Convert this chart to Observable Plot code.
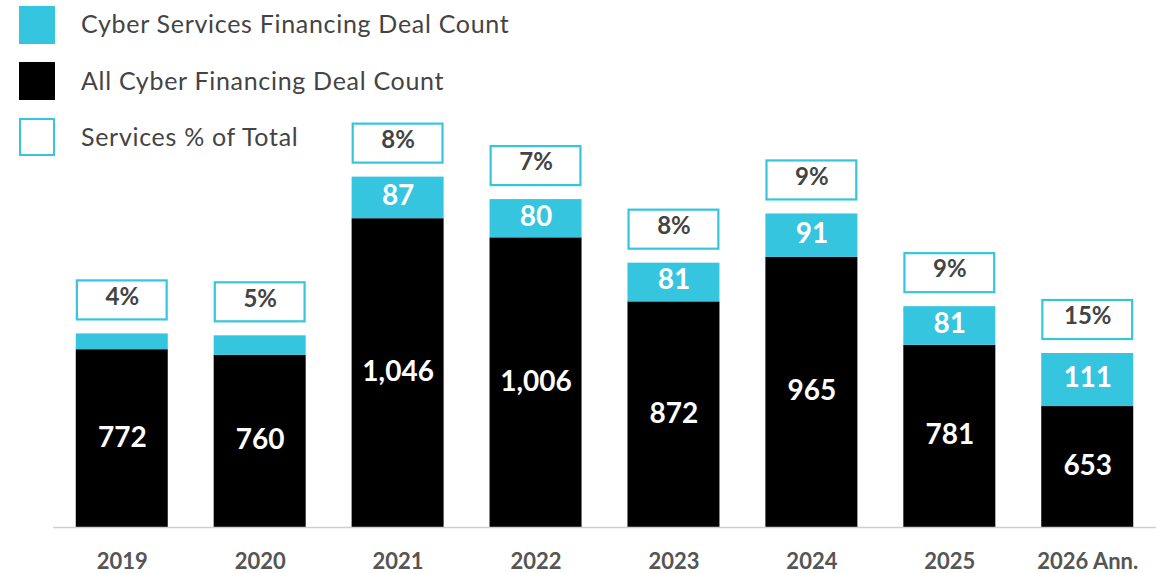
<!DOCTYPE html>
<html>
<head>
<meta charset="utf-8">
<script src="https://cdn.jsdelivr.net/npm/d3@7"></script>
<script src="https://cdn.jsdelivr.net/npm/@observablehq/plot@0.6"></script>
<style>
  html, body { margin: 0; padding: 0; background: #fff; }
  #wrap { position: relative; width: 1168px; height: 573px; font-family: Lato, "Open Sans", sans-serif; }
  #chart { position: absolute; left: 0; top: 0; }
  .lg-sw { position: absolute; left: 19px; width: 36px; height: 38px; box-sizing: border-box; }
  .lg-tx { position: absolute; left: 81px; font-size: 25px; line-height: 25px; color: #444; white-space: nowrap; letter-spacing: 0.7px; }
</style>
</head>
<body>
<div id="wrap">
  <div id="chart"></div>
  <div id="legend"></div>
</div>
<script>
// ---- data ----
const years = ["2019", "2020", "2021", "2022", "2023", "2024", "2025", "2026 Ann."];
const allCyberCount = [772, 760, 1046, 1006, 872, 965, 781, 653];
const servicesCount = [33, 41, 87, 80, 81, 91, 81, 111];
const servicesLabels = ["", "", "87", "80", "81", "91", "81", "111"];
const servicesPct = ["4%", "5%", "8%", "7%", "8%", "9%", "9%", "15%"];
const legendLabels = ["Cyber Services Financing Deal Count", "All Cyber Financing Deal Count", "Services % of Total"];

const cyan = "#36c5de";
const yMin = 400;

const rows = years.map((year, i) => ({
  year,
  base: allCyberCount[i],
  svc: servicesCount[i],
  total: allCyberCount[i] + servicesCount[i],
  baseLabel: d3.format(",")(allCyberCount[i]),
  svcLabel: servicesLabels[i],
  pct: servicesPct[i]
}));

const chart = Plot.plot({
  width: 1168,
  height: 573,
  marginLeft: 53,
  marginRight: 12,
  marginTop: 0,
  marginBottom: 46,
  style: { fontFamily: "Lato, 'Open Sans', sans-serif", background: "transparent" },
  x: { domain: years, paddingInner: 0.333, paddingOuter: 0.165, round: false, label: null },
  y: { domain: [yMin, yMin + 527 / 0.478], axis: null },
  marks: [
    Plot.barY(rows, { x: "year", y: "base", fill: "black", clip: true }),
    Plot.barY(rows, { x: "year", y1: "base", y2: "total", fill: cyan }),
    Plot.ruleY([yMin], { stroke: "#cfcfcf", strokeWidth: 1.5 }),
    Plot.barY(rows, {
      x: "year", y1: "total", y2: "total",
      insetTop: -53, insetBottom: 14, insetLeft: 1.1, insetRight: 1.1,
      fill: "white", stroke: cyan, strokeWidth: 2.2
    }),
    Plot.text(rows, {
      x: "year", y: "total", text: "pct", dy: -37,
      fill: "#444", fontSize: 24, fontWeight: "bold"
    }),
    Plot.text(rows, {
      x: "year", y: d => (yMin + d.base) / 2, text: "baseLabel", dy: -1,
      fill: "white", fontSize: 28, fontWeight: "bold", letterSpacing: 1
    }),
    Plot.text(rows, {
      x: "year", y: d => (d.base + d.total) / 2, text: "svcLabel", dy: -2,
      fill: "white", fontSize: 28, fontWeight: "bold", letterSpacing: 1
    }),
    Plot.axisX({ tickSize: 0, tickPadding: 26, fontSize: 22, fontWeight: "bold", color: "#555", label: null, style: { letterSpacing: "0.5px" } })
  ]
});
document.getElementById("chart").append(chart);

// ---- legend (HTML overlay) ----
const legend = document.getElementById("legend");
const swatches = [
  { top: 6, style: `background:${cyan};` },
  { top: 62, style: "background:#000;" },
  { top: 118, style: `background:#fff;border:2.4px solid ${cyan};` }
];
const textTops = [11, 68, 124];
legendLabels.forEach((lab, i) => {
  const sw = document.createElement("div");
  sw.className = "lg-sw";
  sw.style.cssText = `top:${swatches[i].top}px;` + swatches[i].style;
  legend.append(sw);
  const tx = document.createElement("div");
  tx.className = "lg-tx";
  tx.style.top = textTops[i] + "px";
  tx.textContent = lab;
  legend.append(tx);
});
</script>
</body>
</html>
